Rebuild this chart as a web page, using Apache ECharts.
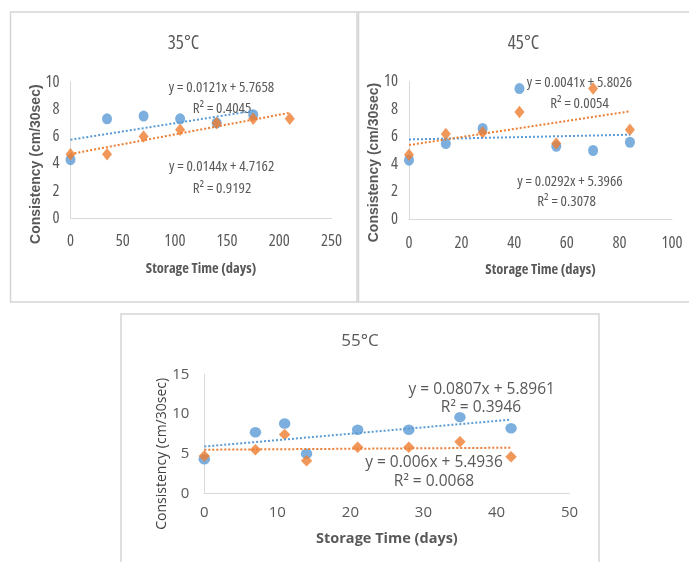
<!DOCTYPE html>
<html><head><meta charset="utf-8">
<script src="https://cdn.jsdelivr.net/npm/echarts@6/dist/echarts.min.js"></script>
<style>html,body{margin:0;padding:0;background:#fff}#c{width:689px;height:562px}</style>
</head><body><div id="c"></div>
<script>
// ---------------- data ----------------
const panelTitles = ['35°C', '45°C', '55°C'];
const xTitle = 'Storage Time (days)';
const yTitle = 'Consistency (cm/30sec)';

const days35Blue   = [0, 35, 70, 105, 140, 175];
const blue35       = [4.3, 7.3, 7.5, 7.3, 7.0, 7.6];
const days35Orange = [0, 35, 70, 105, 140, 175, 210];
const orange35     = [4.7, 4.7, 6.0, 6.5, 7.0, 7.3, 7.3];

const days45   = [0, 14, 28, 42, 56, 70, 84];
const blue45   = [4.3, 5.5, 6.6, 9.5, 5.3, 5.0, 5.6];
const orange45 = [4.7, 6.2, 6.3, 7.8, 5.5, 9.5, 6.5];

const days55   = [0, 7, 11, 14, 21, 28, 35, 42];
const blue55   = [4.3, 7.7, 8.8, 5.0, 8.0, 8.0, 9.6, 8.2];
const orange55 = [4.7, 5.5, 7.4, 4.1, 5.8, 5.8, 6.5, 4.6];

// printed linear trendlines: [slope, intercept]
const trendBlue   = [[0.0121, 5.7658], [0.0041, 5.8026], [0.0807, 5.8961]];
const trendOrange = [[0.0144, 4.7162], [0.0292, 5.3966], [0.006, 5.4936]];
const eqBlue   = ['y = 0.0121x + 5.7658', 'y = 0.0041x + 5.8026', 'y = 0.0807x + 5.8961'];
const r2Blue   = ['R\u00B2 = 0.4045', 'R\u00B2 = 0.0054', 'R\u00B2 = 0.3946'];
const eqOrange = ['y = 0.0144x + 4.7162', 'y = 0.0292x + 5.3966', 'y = 0.006x + 5.4936'];
const r2Orange = ['R\u00B2 = 0.9192', 'R\u00B2 = 0.3078', 'R\u00B2 = 0.0068'];

// axis scales
const xMax  = [250, 100, 50];
const xStep = [50, 20, 10];
const yMax  = [10, 10, 15];
const yStep = [2, 2, 5];

// ---------------- styling / layout ----------------
const OS = "'Open Sans',sans-serif";
const REG = "'Liberation Sans',sans-serif";
const BLUE = '#5B9BD5', ORANGE = '#ED7D31', TXT = '#595959', AX = '#D9D9D9';
const CIRCLE = 'path://M0,50 A50,50 0 1,1 100,50 A50,50 0 1,1 0,50 Z';

const P = [
  { grid: {left: 70.5, top: 82, width: 261, height: 136.3},
    stretch: 'condensed', tickSize: 16.5, xMargin: 14, yMargin: 11,
    xNameSize: 14.5, xNameGap: 43,
    yNameFont: REG, yNameSize: 14, yNameGap: 27, yNameShift: 28, yNameWeight: 'bold',
    titleSize: 19, title: [183.5, 45],
    eqSize: 15,
    eqPos: [[221.5, 88], [222, 108.5], [221.7, 167], [222, 188.5]],
    circ: [10, 11], diam: [10, 12.5] },
  { grid: {left: 409, top: 81.7, width: 263, height: 137.6},
    stretch: 'condensed', tickSize: 16.5, xMargin: 15, yMargin: 11,
    xNameSize: 14.5, xNameGap: 43,
    yNameFont: REG, yNameSize: 14, yNameGap: 28, yNameShift: 24, yNameWeight: 'bold',
    titleSize: 19, title: [523.5, 45],
    eqSize: 15,
    eqPos: [[579.5, 83], [579.5, 103.5], [570, 181.5], [566.5, 201.5]],
    circ: [10, 11], diam: [10, 12.5] },
  { grid: {left: 204.3, top: 374.3, width: 365.2, height: 119},
    stretch: 'normal', tickSize: 15, xMargin: 12, yMargin: 15,
    xNameSize: 14.5, xNameGap: 38,
    yNameFont: OS, yNameSize: 14, yNameGap: 35, yNameShift: 40, yNameWeight: 'normal',
    titleSize: 17, title: [360, 342],
    eqSize: 15.5,
    eqPos: [[481.7, 389.5], [481, 408], [434, 462.5], [434, 481.5]],
    circ: [11.5, 10.5], diam: [11.5, 11.5] }
];

const blueX = [days35Blue, days45, days55];
const blueY = [blue35, blue45, blue55];
const orangeX = [days35Orange, days45, days55];
const orangeY = [orange35, orange45, orange55];

const zip = (xs, ys) => xs.map((x, i) => [x, ys[i]]);
const trend = (xs, c) => {
  const a = Math.min(...xs), b = Math.max(...xs);
  return [[a, c[0] * a + c[1]], [b, c[0] * b + c[1]]];
};

const grid = [], xAxis = [], yAxis = [], series = [], title = [], graphic = [];

// panel borders
const BORDER = {fill: 'none', stroke: '#D5D5D5', lineWidth: 1.5};
graphic.push({type: 'rect', shape: {x: 10.5, y: 12, width: 346.5, height: 290}, style: BORDER, silent: true});
graphic.push({type: 'rect', shape: {x: 358.5, y: 12, width: 340, height: 290}, style: BORDER, silent: true});
graphic.push({type: 'rect', shape: {x: 121, y: 314, width: 478, height: 270}, style: BORDER, silent: true});

P.forEach((p, i) => {
  grid.push(Object.assign({}, p.grid));
  const tick = {color: TXT, fontFamily: OS, fontStyle: p.stretch, fontSize: p.tickSize, showMinLabel: true, showMaxLabel: true};
  xAxis.push({
    type: 'value', gridIndex: i, min: 0, max: xMax[i], interval: xStep[i],
    axisLine: {show: true, lineStyle: {color: AX, width: 1}},
    axisTick: {show: false}, splitLine: {show: false},
    axisLabel: Object.assign({margin: p.xMargin}, tick),
    name: xTitle, nameLocation: 'middle', nameGap: p.xNameGap, nameMoveOverlap: false,
    nameTextStyle: {color: TXT, fontFamily: OS, fontStyle: p.stretch, fontSize: p.xNameSize, fontWeight: 'bold'}
  });
  yAxis.push({
    type: 'value', gridIndex: i, min: 0, max: yMax[i], interval: yStep[i],
    axisLine: {show: true, lineStyle: {color: AX, width: 1}},
    axisTick: {show: false}, splitLine: {show: false},
    axisLabel: Object.assign({margin: p.yMargin}, tick),
    name: yTitle, nameLocation: 'middle', nameGap: p.yNameGap, nameMoveOverlap: false,
    nameTextStyle: {color: p.yNameWeight === 'bold' ? TXT : '#404040', fontFamily: p.yNameFont, fontSize: p.yNameSize,
      fontWeight: p.yNameWeight, padding: [0, p.yNameShift, 0, 0]}
  });
  title.push({
    text: panelTitles[i], left: p.title[0], top: p.title[1] - p.titleSize / 2 - 1, textAlign: 'center', padding: 0,
    textStyle: {color: TXT, fontFamily: OS, fontStyle: p.stretch, fontSize: p.titleSize, fontWeight: 'normal'}
  });
  series.push({
    type: 'scatter', name: 'blue' + i, xAxisIndex: i, yAxisIndex: i, data: zip(blueX[i], blueY[i]),
    symbol: CIRCLE, symbolSize: p.circ, itemStyle: {color: BLUE}, z: 3
  });
  series.push({
    type: 'scatter', name: 'orange' + i, xAxisIndex: i, yAxisIndex: i, data: zip(orangeX[i], orangeY[i]),
    symbol: 'diamond', symbolSize: p.diam, itemStyle: {color: ORANGE}, z: 4
  });
  series.push({
    type: 'line', name: 'blueTrend' + i, xAxisIndex: i, yAxisIndex: i, data: trend(blueX[i], trendBlue[i]),
    showSymbol: false, symbol: 'none', silent: true,
    lineStyle: {color: BLUE, width: 2, type: [2, 2], cap: 'butt'}, z: 5
  });
  series.push({
    type: 'line', name: 'orangeTrend' + i, xAxisIndex: i, yAxisIndex: i, data: trend(orangeX[i], trendOrange[i]),
    showSymbol: false, symbol: 'none', silent: true,
    lineStyle: {color: ORANGE, width: 2, type: [2, 2], cap: 'butt'}, z: 5
  });
  const texts = [eqBlue[i], r2Blue[i], eqOrange[i], r2Orange[i]];
  texts.forEach((t, k) => {
    graphic.push({type: 'text', x: p.eqPos[k][0], y: p.eqPos[k][1], z: 2,
      style: {text: t, fill: TXT, font: p.stretch + ' ' + p.eqSize + 'px ' + OS, align: 'center', verticalAlign: 'middle'}, silent: true});
  });
});

const chart = echarts.init(document.getElementById('c'), null, {renderer: 'canvas'});
chart.setOption({animation: false, backgroundColor: '#fff', title, grid, xAxis, yAxis, series, graphic, legend: {show: false}, tooltip: {show: false}});
</script>
</body></html>
